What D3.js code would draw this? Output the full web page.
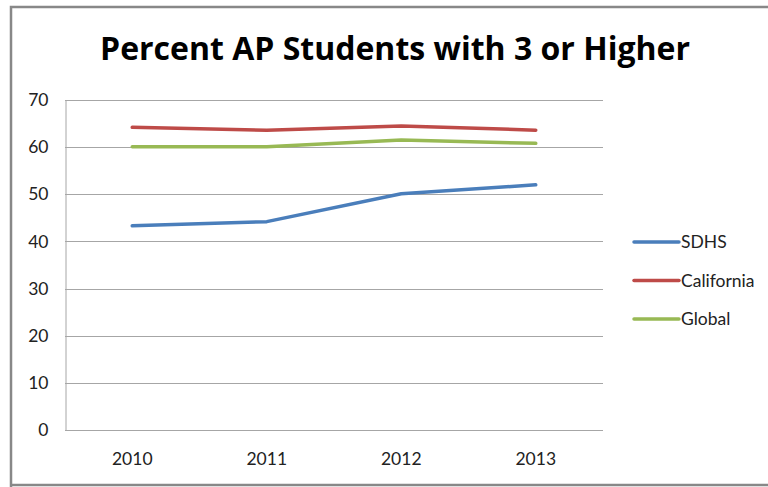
<!DOCTYPE html>
<html>
<head>
<meta charset="utf-8">
<script src="https://cdn.jsdelivr.net/npm/d3@7/dist/d3.min.js"></script>
<style>
  html, body { margin: 0; padding: 0; background: #fff; }
  svg { display: block; }
</style>
</head>
<body>
<svg id="chart" width="768" height="487"></svg>
<script>
// Chart data
const years = ["2010", "2011", "2012", "2013"];
const seriesNames = ["SDHS", "California", "Global"];
const sdhs = [43.3, 44.2, 50.1, 52.0];
const california = [64.2, 63.6, 64.5, 63.6];
const global = [60.1, 60.1, 61.5, 60.8];
const yTicks = [0, 10, 20, 30, 40, 50, 60, 70];
const colors = ["#4a7ebb", "#be4b48", "#98b954"];

const series = [sdhs, california, global].map((values, i) => ({
  name: seriesNames[i],
  color: colors[i],
  values: values.map((v, j) => ({ year: years[j], value: v }))
}));

const svg = d3.select("#chart");
const font = "Lato, 'Open Sans', sans-serif";
const labelSize = 17.5;

// Outer frame
svg.append("path")
  .attr("d", "M11,490 L11,7 L775,7 M11,485 L775,485")
  .attr("fill", "none")
  .attr("stroke", "#888")
  .attr("stroke-width", 2.5);

// Title
svg.append("text")
  .attr("x", 395)
  .attr("y", 60)
  .attr("text-anchor", "middle")
  .attr("font-family", "'Open Sans', sans-serif")
  .attr("font-weight", "bold")
  .attr("font-size", 32)
  .attr("fill", "#000")
  .text("Percent AP Students with 3 or Higher");

const plot = { left: 65, right: 603, top: 100, bottom: 430 };

const x = d3.scaleBand().domain(years).range([plot.left, plot.right]);
const y = d3.scaleLinear().domain([0, 70]).range([plot.bottom, plot.top]);

// Gridlines
svg.append("g")
  .selectAll("line")
  .data(yTicks)
  .join("line")
  .attr("x1", plot.left)
  .attr("x2", plot.right)
  .attr("y1", d => Math.round(y(d)) + 0.5)
  .attr("y2", d => Math.round(y(d)) + 0.5)
  .attr("stroke", "#a6a6a6")
  .attr("stroke-width", 1);

// Y axis
const yAxis = svg.append("g")
  .attr("transform", `translate(${plot.left + 0.5},0)`)
  .call(d3.axisLeft(y).tickValues(yTicks).tickSize(0).tickPadding(17));
yAxis.select(".domain").attr("stroke", "#a6a6a6");
yAxis.selectAll("text")
  .attr("font-family", font)
  .attr("font-size", labelSize)
  .attr("fill", "#222");

// X axis
const xAxis = svg.append("g")
  .attr("transform", `translate(0,${plot.bottom + 0.5})`)
  .call(d3.axisBottom(x).tickSize(0).tickPadding(22));
xAxis.select(".domain").remove();
xAxis.selectAll("text")
  .attr("font-family", font)
  .attr("font-size", labelSize)
  .attr("fill", "#222");

// Series lines
const line = d3.line()
  .x(d => x(d.year) + x.bandwidth() / 2)
  .y(d => y(d.value));

svg.append("g")
  .selectAll("path")
  .data(series)
  .join("path")
  .attr("d", d => line(d.values))
  .attr("fill", "none")
  .attr("stroke", d => d.color)
  .attr("stroke-width", 3.5)
  .attr("stroke-linejoin", "round")
  .attr("stroke-linecap", "round");

// Legend
const legend = svg.append("g")
  .selectAll("g")
  .data(series)
  .join("g")
  .attr("transform", (d, i) => `translate(634,${242 + i * 38.5})`);
legend.append("line")
  .attr("x1", 0).attr("x2", 45)
  .attr("stroke", d => d.color)
  .attr("stroke-width", 3.5)
  .attr("stroke-linecap", "round");
legend.append("text")
  .attr("x", 47)
  .attr("dy", "0.35em")
  .attr("font-family", font)
  .attr("font-size", labelSize)
  .attr("fill", "#222")
  .text(d => d.name);
</script>
</body>
</html>
